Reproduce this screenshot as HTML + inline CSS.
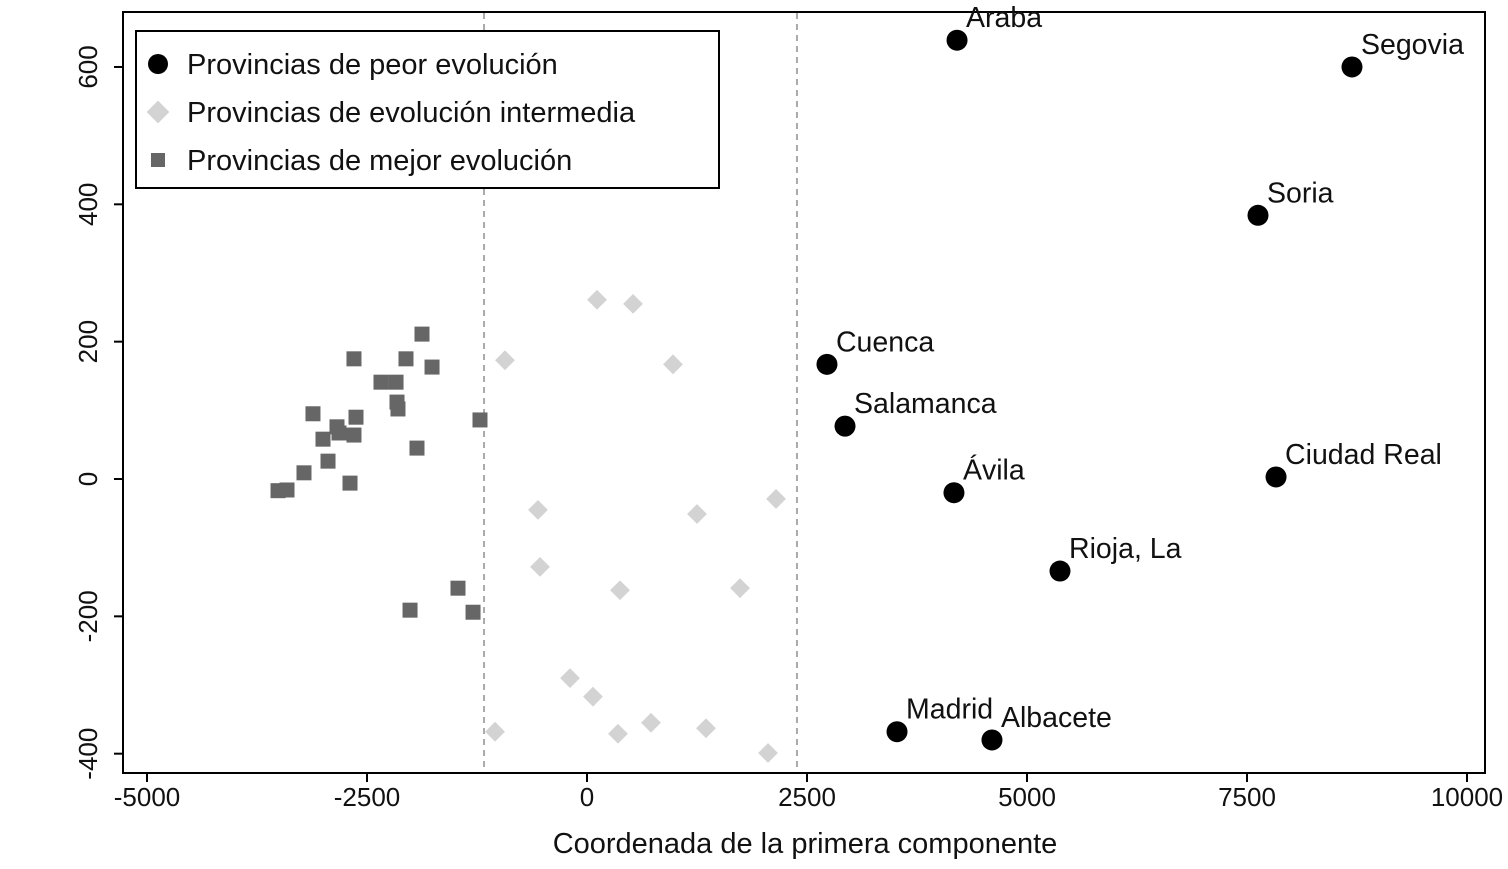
<!DOCTYPE html>
<html><head><meta charset="utf-8"><style>
body{margin:0;background:#fff;}
svg text{font-family:"Liberation Sans",sans-serif;fill:#111;}
</style></head><body>
<svg id="chart" width="1508" height="864" viewBox="0 0 1508 864" xmlns="http://www.w3.org/2000/svg">
<rect x="123" y="12" width="1362" height="761" fill="none" stroke="#000" stroke-width="2"/>
<g id="grid"></g><g id="axes"></g><g id="marks"></g>
<g>
<rect x="136" y="31" width="583" height="157" fill="#fff" stroke="#000" stroke-width="2"/>
<circle cx="158" cy="64" r="10" fill="#000"/>
<text x="187" y="74" font-size="29">Provincias de peor evolución</text>
<rect x="150" y="104" width="16" height="16" fill="#d3d3d3" transform="rotate(45 158 112)"/>
<text x="187" y="122" font-size="29">Provincias de evolución intermedia</text>
<rect x="151" y="153" width="14" height="14" fill="#666"/>
<text x="187" y="170" font-size="29">Provincias de mejor evolución</text>
</g>
<text x="805" y="853" font-size="29" text-anchor="middle">Coordenada de la primera componente</text>
</svg>
<script>
const xTicks=[-5000,-2500,0,2500,5000,7500,10000];
const yTicks=[-400,-200,0,200,400,600];
const cutoffs=[-1170,2386];
const worstNames=["Araba","Segovia","Soria","Cuenca","Salamanca","Ávila","Ciudad Real","Rioja, La","Madrid","Albacete"];
const worstX=[4205,8693,7625,2727,2932,4170,7830,5375,3523,4602];
const worstY=[639,600,384,167,77,-20,3,-134,-368,-380];
const midX=[114,523,-932,977,-557,1250,2148,-534,375,1739,-193,68,727,-1045,352,1352,2057];
const midY=[261,255,173,167,-45,-51,-29,-128,-162,-159,-290,-317,-355,-368,-371,-363,-399];
const bestX=[-1875,-2648,-2057,-1761,-2341,-2170,-2159,-2148,-3114,-2625,-1216,-2841,-2818,-3000,-2648,-1932,-2943,-3216,-2693,-3409,-3511,-1466,-2011,-1295];
const bestY=[211,175,175,163,141,141,112,102,95,90,86,76,67,58,64,45,26,9,-6,-16,-17,-159,-191,-194];
const sx=v=>587+v*0.088, sy=v=>479-v*0.6867;
const NS="http://www.w3.org/2000/svg";
function mk(t,a,p){const e=document.createElementNS(NS,t);for(const k in a)e.setAttribute(k,a[k]);p.appendChild(e);return e;}
const axes=document.getElementById('axes'),grid=document.getElementById('grid'),marks=document.getElementById('marks');
xTicks.forEach(v=>{const x=sx(v);
 const l=mk('line',{x1:x,x2:x,y1:773,y2:782,stroke:'#000','stroke-width':2},axes);
 
 
 const t=mk('text',{x:x,y:806,'font-size':26,'text-anchor':'middle'},axes);t.textContent=v;
 
 });
yTicks.forEach(v=>{const y=sy(v);
 const l=mk('line',{x1:114,x2:123,y1:y,y2:y,stroke:'#000','stroke-width':2},axes);
 
 
 const t=mk('text',{x:0,y:0,'font-size':26,'text-anchor':'middle',transform:`translate(97 ${y}) rotate(-90)`},axes);t.textContent=v;
 
 });
cutoffs.forEach(v=>{const x=sx(v);
 const l=mk('line',{x1:x,x2:x,y1:13,y2:772,stroke:'#aaa','stroke-width':2,'stroke-dasharray':'6,5'},grid);
 
 });
midX.forEach((v,i)=>{const x=sx(v),y=sy(midY[i]);
 const r=mk('rect',{x:x-7,y:y-7,width:14,height:14,fill:'#d3d3d3',transform:`rotate(45 ${x} ${y})`},marks);
 
 });
bestX.forEach((v,i)=>{const x=sx(v),y=sy(bestY[i]);
 const r=mk('rect',{x:x-7.5,y:y-7.5,width:15,height:15,fill:'#666'},marks);
 
 });
worstX.forEach((v,i)=>{const x=sx(v),y=sy(worstY[i]);
 const c=mk('circle',{cx:x,cy:y,r:10.5,fill:'#000'},marks);
 
 
 const t=mk('text',{x:x+9,y:y-13,'font-size':28.5},marks);t.textContent=worstNames[i];
 
 });
</script>
</body></html>
